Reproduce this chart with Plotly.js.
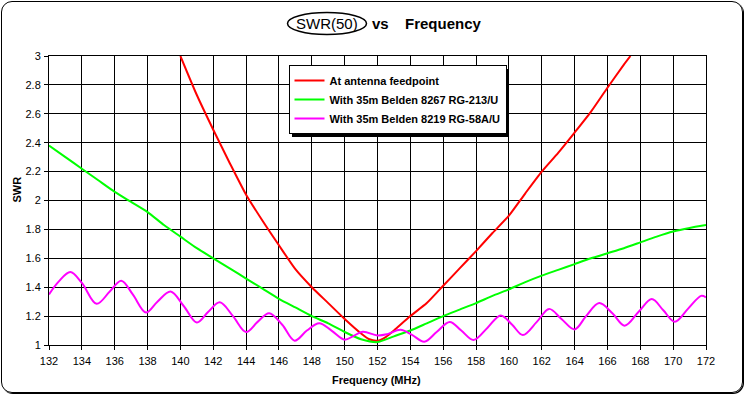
<!DOCTYPE html>
<html>
<head>
<meta charset="utf-8">
<script src="https://cdn.plot.ly/plotly-3.0.1.min.js"></script>
<style>
  html, body { margin: 0; padding: 0; background: #fff; }
  #wrap { position: relative; width: 745px; height: 395px; }
  #chart { position: absolute; left: 0; top: 0; width: 745px; height: 395px; }
  #frame { position: absolute; left: 1px; top: 1px; width: 740px; height: 390px;
           border: 1px solid #000; border-radius: 11px; box-shadow: 1px 1px 0 #000;
           pointer-events: none; }
</style>
</head>
<body>
<div id="wrap">
  <div id="chart"></div>
  <div id="frame"></div>
</div>
<script>
// ---- data ----
const xTicks = [132,134,136,138,140,142,144,146,148,150,152,154,156,158,160,162,164,166,168,170,172];
const yTicks = [1,1.2,1.4,1.6,1.8,2,2.2,2.4,2.6,2.8,3];

const seriesNames = ["At antenna feedpoint", "With 35m Belden 8267 RG-213/U", "With 35m Belden 8219 RG-58A/U"];

const feedFreq = [140,141,142,143,144,145,146,147,148,149,150,151,151.5,152,152.5,153,154,155,156,157,158,159,160,161,162,163,164,165,166,167,167.4];
const feedSwr  = [3.0,2.73,2.49,2.26,2.04,1.86,1.69,1.525,1.40,1.29,1.18,1.08,1.04,1.03,1.055,1.10,1.20,1.29,1.41,1.53,1.65,1.775,1.895,2.05,2.20,2.33,2.47,2.615,2.78,2.94,3.0];

const rg213Freq = [132,133,134,135,136,137,138,139,140,141,142,143,144,145,146,147,148,149,150,151,152,153,154,155,156,157,158,159,160,161,162,163,164,165,166,167,168,169,170,171,172];
const rg213Swr  = [2.38,2.30,2.22,2.14,2.06,1.99,1.92,1.83,1.75,1.67,1.60,1.53,1.46,1.39,1.32,1.26,1.20,1.15,1.09,1.04,1.02,1.06,1.10,1.15,1.20,1.245,1.29,1.34,1.385,1.435,1.48,1.52,1.56,1.60,1.635,1.67,1.71,1.75,1.785,1.81,1.83];

const rg58Freq = [132,132.6,133.3,134,134.9,135.7,136.4,137.1,137.9,138.6,139.4,140.2,141,141.7,142.4,143.2,144,144.7,145.4,146.2,146.95,147.7,148.45,149.2,150,150.5,151.1,152,152.6,153.4,154.1,154.85,155.6,156.4,157.1,157.85,158.7,159.5,160.2,160.85,161.7,162.45,163.2,164,164.7,165.5,166.3,167.05,167.9,168.7,169.4,170.1,170.9,171.7,172];
const rg58Swr  = [1.35,1.44,1.505,1.43,1.285,1.37,1.445,1.35,1.225,1.30,1.37,1.27,1.155,1.23,1.295,1.20,1.09,1.16,1.22,1.14,1.03,1.10,1.15,1.10,1.037,1.06,1.092,1.066,1.075,1.105,1.07,1.023,1.09,1.16,1.10,1.035,1.12,1.205,1.14,1.069,1.16,1.25,1.18,1.108,1.20,1.29,1.22,1.134,1.23,1.318,1.24,1.161,1.25,1.34,1.33];

// ---- layout helpers (pixel -> paper) ----
const M = {l: 49, r: 39, t: 56, b: 50};
const PW = 745 - M.l - M.r, PH = 395 - M.t - M.b;
const PX = p => (p - M.l) / PW;
const PY = p => (M.t + PH - p) / PH;

const FONT = "Liberation Sans, Arial, sans-serif";

const traces = [
  {x: feedFreq, y: feedSwr, name: seriesNames[0], mode: "lines",
   line: {color: "#ff0000", width: 2, shape: "spline", smoothing: 0.6}},
  {x: rg213Freq, y: rg213Swr, name: seriesNames[1], mode: "lines",
   line: {color: "#00ff00", width: 2, shape: "spline", smoothing: 0.6}},
  {x: rg58Freq, y: rg58Swr, name: seriesNames[2], mode: "lines",
   line: {color: "#ff00ff", width: 2, shape: "spline", smoothing: 1}}
];

const layout = {
  width: 745, height: 395,
  margin: M,
  paper_bgcolor: "#ffffff", plot_bgcolor: "#ffffff",
  font: {family: FONT, size: 11, color: "#000"},
  showlegend: true,
  legend: {
    x: PX(288.5), y: PY(65), xanchor: "left", yanchor: "top",
    bgcolor: "#ffffff", bordercolor: "#000", borderwidth: 1,
    font: {family: FONT, size: 11, color: "#000", weight: "bold"},
    itemwidth: 30, tracegroupgap: 0
  },
  xaxis: {
    range: [132, 172], tickvals: xTicks, ticktext: xTicks.map(String),
    showgrid: true, gridcolor: "#000", gridwidth: 1,
    showline: true, linecolor: "#000", linewidth: 1, mirror: true,
    ticks: "outside", ticklen: 4, tickcolor: "#000", ticklabelstandoff: 2,
    zeroline: false, tickfont: {family: FONT, size: 11}
  },
  yaxis: {
    range: [1, 3], tickvals: yTicks, ticktext: yTicks.map(v => String(v)),
    showgrid: true, gridcolor: "#000", gridwidth: 1,
    showline: true, linecolor: "#000", linewidth: 1, mirror: true,
    ticks: "outside", ticklen: 4, tickcolor: "#000", ticklabelstandoff: 1,
    zeroline: false, tickfont: {family: FONT, size: 11}
  },
  shapes: [
    {type: "circle", xref: "paper", yref: "paper",
     x0: PX(287.5), x1: PX(366.5), y0: PY(34.5), y1: PY(12.5),
     line: {color: "#000", width: 1.5}, fillcolor: "rgba(0,0,0,0)"}
  ],
  annotations: [
    {text: "SWR(50)", xref: "paper", yref: "paper", x: PX(327), y: PY(23.5),
     xanchor: "center", yanchor: "middle", showarrow: false,
     font: {family: FONT, size: 15, color: "#000"}},
    {text: "vs", xref: "paper", yref: "paper", x: PX(380.7), y: PY(23.5),
     xanchor: "center", yanchor: "middle", showarrow: false,
     font: {family: FONT, size: 15, color: "#000", weight: "bold"}},
    {text: "Frequency", xref: "paper", yref: "paper", x: PX(443.5), y: PY(23.5),
     xanchor: "center", yanchor: "middle", showarrow: false,
     font: {family: FONT, size: 15, color: "#000", weight: "bold"}},
    {text: "SWR", xref: "paper", yref: "paper", x: PX(16.5), y: PY(190),
     xanchor: "center", yanchor: "middle", showarrow: false, textangle: -90,
     font: {family: FONT, size: 11, color: "#000", weight: "bold"}},
    {text: "Frequency (MHz)", xref: "paper", yref: "paper", x: PX(376), y: PY(379.5),
     xanchor: "center", yanchor: "middle", showarrow: false,
     font: {family: FONT, size: 11, color: "#000", weight: "bold"}}
  ]
};

Plotly.newPlot("chart", traces, layout, {staticPlot: true, displayModeBar: false}).then(gd => {
  // drop shadow behind the legend box
  const bg = gd.querySelector(".legend .bg");
  if (bg) {
    const sh = bg.cloneNode(true);
    sh.setAttribute("transform", "translate(3,3)");
    sh.style.fill = "#000";
    sh.style.stroke = "none";
    bg.parentNode.insertBefore(sh, bg);
  }
});
</script>
</body>
</html>
